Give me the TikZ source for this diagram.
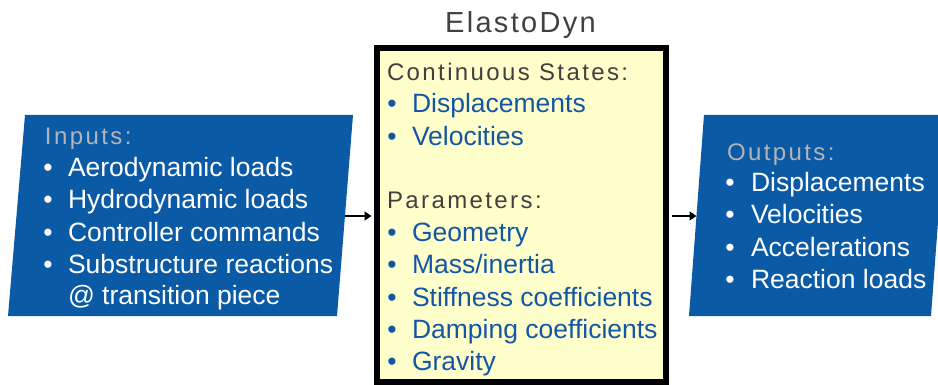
\documentclass[tikz,border=0pt]{standalone}
\usepackage{fontspec}
\setmainfont{Liberation Sans}
\newfontfamily\headfont[LetterSpace=10]{Liberation Sans}
\newfontfamily\titlefont[LetterSpace=8]{Liberation Sans}
\usetikzlibrary{arrows.meta}
\definecolor{boxblue}{HTML}{0B5AA6}
\definecolor{itemblue}{HTML}{1356A6}
\definecolor{darkgray}{HTML}{404040}
\definecolor{lightgray}{HTML}{B4B4B4}
\definecolor{coreyellow}{HTML}{FFFFCC}
\begin{document}
\begin{tikzpicture}[x=1pt,y=-1pt,
  txt/.style={anchor=base west, inner sep=0pt, outer sep=0pt},
  itemC/.style={txt, text=itemblue, font=\fontsize{26.5}{32}\selectfont},
  itemW/.style={txt, text=white, font=\fontsize{26.5}{32}\selectfont},
  headC/.style={txt, text=darkgray, font=\headfont\fontsize{24}{30}\selectfont},
  headW/.style={txt, text=lightgray, font=\headfont\fontsize{24}{30}\selectfont},
  titlestyle/.style={anchor=base, inner sep=0pt, text=darkgray, font=\titlefont\fontsize{29}{34}\selectfont},
  conn/.style={draw=black, line width=2.2pt, -{Triangle[length=7pt,width=9pt]}},
  corebox/.style={draw=black, line width=5.5pt, fill=coreyellow, minimum width=289pt, minimum height=334pt, inner sep=0pt}
]
\useasboundingbox (0,0) rectangle (938,385);
\begin{scope}
\clip (0,0) rectangle (938,385);
\fill[boxblue] (25,115) -- (353,115) -- (337,316) -- (8,316) -- cycle;
\fill[boxblue] (704,115) -- (946,115) -- (931,316) -- (689,316) -- cycle;
\end{scope}
\node[corebox] (core) at (521.5,215) {};
\node[titlestyle] (title) at (520.5,33) {ElastoDyn};
\coordinate (inEdge) at (345,216);
\coordinate (outEdge) at (696.5,216);
\draw[conn, shorten >=2.75pt] (inEdge) -- (inEdge -| core.west);
\draw[conn, shorten <=2.75pt] (outEdge -| core.east) -- (outEdge);
% centre
\node[headC] (csH) at (387,81) {Continuous States:};
\foreach \y/\t [count=\i] in {113/Displacements,146/Velocities}{
  \node[itemC] (csB\i) at (387.4,\y) {•};
  \node[itemC] (cs\i) at (412,\y) {\t};
}
\node[headC] (parH) at (387,209) {Parameters:};
\foreach \y/\t [count=\i] in {241/Geometry,273/{Mass/inertia},306/Stiffness coefficients,338/Damping coefficients,370/Gravity}{
  \node[itemC] (parB\i) at (387.4,\y) {•};
  \node[itemC] (par\i) at (412,\y) {\t};
}
% inputs
\node[headW] (inH) at (45,145) {Inputs:};
\foreach \y/\t [count=\i] in {177/Aerodynamic loads,209/Hydrodynamic loads,241/Controller commands,273/Substructure reactions}{
  \node[itemW] (inB\i) at (43.4,\y) {•};
  \node[itemW] (in\i) at (68,\y) {\t};
}
\node[itemW] (in5) at (68,304) {@ transition piece};
% outputs
\node[headW] (outH) at (727,161) {Outputs:};
\foreach \y/\t [count=\i] in {192/Displacements,224/Velocities,257/Accelerations,288/Reaction loads}{
  \node[itemW] (outB\i) at (725.4,\y) {•};
  \node[itemW] (out\i) at (751,\y) {\t};
}
\end{tikzpicture}
\end{document}
